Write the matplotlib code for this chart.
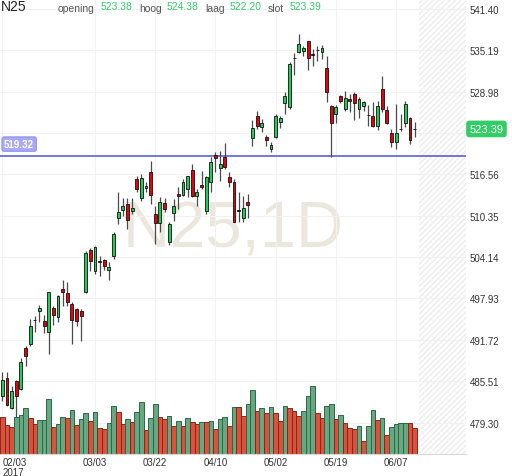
import matplotlib.pyplot as plt
import numpy as np

plt.rcParams['font.family'] = ['Liberation Sans', 'DejaVu Sans']

# daily candles, 03 Feb 2017 .. 13 Jun 2017
opens = [483.34, 485.99, 481.44, 485.59, 484.34, 490.45, 491.10, 494.63, 496.10, 494.60,
         492.94, 496.46, 495.11, 499.36, 498.76, 497.10, 496.35, 496.10, 498.91, 505.18,
         502.10, 503.61, 503.71, 502.21, 504.27, 509.97, 511.26, 512.12, 511.11, 515.87,
         512.98, 514.48, 516.88, 510.62, 509.27, 512.27, 506.37, 510.72, 513.62, 513.47,
         514.37, 517.27, 513.28, 514.97, 511.11, 515.38, 519.48, 517.48, 519.13, 516.13,
         515.38, 511.14, 509.97, 512.49, 521.98, 525.29, 523.64, 522.22, 520.38, 522.13,
         524.39, 527.28, 526.64, 534.00, 534.99, 535.09, 536.55, 534.54, 535.24, 534.90,
         532.49, 526.79, 525.63, 528.29, 526.38, 527.88, 528.64, 526.38, 526.79, 525.48,
         525.38, 523.79, 529.39, 526.28, 522.78, 521.38, 523.38, 524.28, 525.03, 523.38]
highs = [486.94, 486.94, 484.84, 485.74, 488.95, 490.80, 494.85, 495.35, 496.95, 495.50,
         498.95, 496.85, 498.46, 500.71, 500.36, 497.36, 496.46, 496.35, 505.06, 505.44,
         505.86, 504.36, 503.86, 503.37, 507.87, 513.88, 512.98, 512.98, 512.98, 516.37,
         516.62, 515.38, 518.62, 511.86, 513.13, 512.98, 509.37, 512.87, 514.63, 515.87,
         516.37, 518.13, 514.37, 517.12, 516.37, 519.18, 519.93, 520.08, 521.28, 516.88,
         515.87, 513.88, 513.37, 513.62, 524.78, 526.13, 524.88, 522.48, 521.38, 525.63,
         525.29, 528.89, 533.40, 534.79, 537.64, 535.89, 536.64, 535.39, 535.89, 535.99,
         534.39, 526.98, 526.98, 528.49, 529.13, 528.64, 528.98, 528.14, 527.63, 526.98,
         527.39, 527.63, 531.38, 526.79, 523.38, 527.13, 525.63, 527.63, 525.23, 524.38]
lows = [482.58, 481.79, 481.34, 480.14, 484.19, 487.84, 490.84, 492.85, 494.45, 492.70,
        489.60, 493.95, 494.36, 496.76, 496.76, 491.10, 493.85, 491.59, 498.76, 502.06,
        501.61, 501.35, 502.21, 500.75, 503.86, 509.12, 510.36, 508.37, 510.62, 513.88,
        512.61, 513.88, 512.12, 506.11, 507.87, 510.87, 505.96, 509.61, 511.37, 513.37,
        513.13, 513.13, 511.86, 514.37, 510.62, 513.88, 516.88, 515.62, 517.37, 514.63,
        509.37, 509.37, 509.37, 509.97, 520.78, 523.38, 522.89, 520.78, 519.88, 521.98,
        523.49, 525.63, 526.38, 531.49, 534.79, 534.30, 532.28, 532.88, 533.64, 533.89,
        527.39, 519.13, 524.28, 527.28, 526.13, 525.89, 524.78, 524.99, 526.13, 523.88,
        523.64, 523.28, 525.89, 524.13, 520.63, 520.38, 523.08, 523.68, 521.13, 522.20]
closes = [485.74, 481.89, 484.09, 483.34, 488.35, 489.37, 493.85, 494.63, 496.46, 493.76,
          498.86, 495.45, 498.35, 498.86, 497.45, 494.75, 494.60, 495.26, 504.76, 503.56,
          505.62, 503.37, 502.76, 502.70, 507.62, 510.96, 511.77, 509.76, 511.47, 514.37,
          515.98, 514.87, 513.47, 509.27, 512.37, 511.37, 509.12, 511.86, 513.37, 515.47,
          516.28, 513.28, 513.88, 514.63, 516.13, 518.47, 519.10, 518.13, 517.63, 515.47,
          509.46, 511.14, 511.47, 511.97, 523.49, 523.88, 524.24, 521.73, 520.98, 525.29,
          524.99, 528.29, 533.14, 534.00, 536.14, 535.50, 534.00, 534.54, 535.24, 535.54,
          528.89, 524.28, 526.64, 527.63, 527.99, 527.63, 527.28, 527.88, 527.48, 525.48,
          523.79, 526.88, 526.38, 524.24, 521.38, 522.78, 523.38, 527.06, 521.73, 523.39]
volumes = [37.3, 29.0, 27.3, 36.7, 39.0, 45.7, 35.7, 30.0, 34.0, 34.0,
           54.7, 27.3, 30.0, 37.3, 35.7, 44.0, 29.0, 34.7, 40.7, 33.3,
           42.3, 26.3, 25.0, 31.3, 48.3, 41.7, 30.0, 34.7, 32.3, 42.3,
           51.7, 24.0, 35.7, 50.0, 36.7, 35.0, 38.3, 28.3, 33.3, 28.3,
           35.7, 31.7, 30.0, 32.3, 32.3, 33.3, 24.7, 34.7, 37.3, 28.0,
           47.3, 46.7, 38.0, 50.0, 64.0, 43.0, 45.7, 40.7, 47.3, 40.7,
           33.0, 48.3, 45.7, 43.0, 38.0, 43.0, 58.0, 68.3, 40.7, 36.3,
           48.3, 49.7, 34.7, 39.0, 31.3, 25.7, 24.7, 28.0, 13.0, 28.0,
           44.0, 34.0, 35.7, 19.0, 27.3, 29.7, 30.7, 31.3, 30.7, 26.3]
vol_up = [0, 0, 0, 1, 1, 1, 0, 0, 1, 1,
          1, 0, 1, 1, 0, 1, 0, 1, 1, 0,
          1, 0, 0, 1, 1, 0, 0, 1, 0, 1,
          1, 0, 1, 1, 0, 0, 1, 0, 1, 0,
          1, 0, 0, 1, 0, 1, 0, 1, 1, 0,
          1, 0, 0, 1, 1, 0, 1, 0, 1, 0,
          0, 1, 0, 0, 0, 1, 1, 1, 0, 0,
          1, 1, 0, 1, 0, 0, 0, 1, 0, 1,
          1, 0, 1, 0, 1, 1, 1, 1, 0, 0]

tick_idx = [0, 20, 33, 46, 59, 72, 85]
tick_labels = ['02/03\n2017', '03/03', '03/22', '04/10', '05/02', '05/19', '06/07']
price_ticks = [479.30, 485.51, 491.72, 497.93, 504.14, 510.35, 516.56, 522.77, 528.98, 535.19, 541.40]
level = 519.32
symbol = 'N25'
interval = '1D'
hdr_labels = ['opening', 'hoog', 'laag', 'slot']

W, H = 512, 477
fig = plt.figure(figsize=(W / 100, H / 100), dpi=100)
ax = fig.add_axes([0, 22 / H, 466 / W, 455 / H])

x = np.arange(len(closes))
o = np.array(opens)
c = np.array(closes)

# volume bars live in the bottom of the price panel (axes-fraction heights)
vol_frac = np.array(volumes) / (max(volumes) * 6.66)
vcol = ['#67a883' if u else '#d9523d' for u in vol_up]
vedge = ['#2c6844' if u else '#8a2616' for u in vol_up]
ax.bar(x, vol_frac, width=1.0, bottom=0, color=vcol, edgecolor=vedge, linewidth=0.7,
       transform=ax.get_xaxis_transform(), zorder=1.8)

# candles
body_col = np.where(c > o, '#22cc55', np.where(c < o, '#e8000b', '#111111'))
body_h = np.where(c == o, 0.05, c - o)
ax.vlines(x, lows, highs, color='#4a4a4a', linewidth=0.9, zorder=3)
ax.bar(x, body_h, bottom=o, width=0.62, color=body_col, edgecolor='#111111',
       linewidth=0.6, zorder=4)

ax.axhline(level, color='#6b6bd6', linewidth=1.3, zorder=2)
ax.axvspan(len(closes), 100.1, facecolor='none', edgecolor='#ececec',
           hatch='//////', linewidth=0, zorder=1)

ax.text(0.5, 0.455, f'{symbol},{interval}', transform=ax.transAxes, ha='center',
        va='baseline', fontsize=47, color='#ebe7dc', zorder=0.5)

ax.set_xlim(-0.52, 100.1)
ax.set_ylim(474.58, 542.90)
ax.yaxis.tick_right()
# the 522.77 label sits under the last-price tag
ax.set_yticks(price_ticks, ['' if v == 522.77 else f'{v:.2f}' for v in price_ticks])
ax.set_xticks(tick_idx, tick_labels)
ax.tick_params(axis='y', length=0, pad=2.5, labelsize=7, labelcolor='#333333')
ax.tick_params(axis='x', length=0, pad=2.5, labelsize=7, labelcolor='#333333')
ax.get_xticklabels()[0].set_ha('left')
ax.get_xticklabels()[0].set_linespacing(0.95)
ax.grid(True, color='#f1f1f1', linewidth=0.8)
for s in ['top', 'left', 'right']:
    ax.spines[s].set_visible(False)
ax.spines['bottom'].set_color('#d8d8d8')
ax.spines['bottom'].set_linewidth(0.8)

# last price and level tags
ax.annotate(f'{closes[-1]:.2f}', xy=(1, closes[-1]), xycoords=ax.get_yaxis_transform(),
            xytext=(2.5, 0), textcoords='offset points', ha='left', va='center',
            color='white', fontsize=8,
            bbox=dict(boxstyle='round,pad=0.3', fc='#33cc66', ec='none'),
            annotation_clip=False, zorder=10)
ax.annotate(f'{level:.2f}', xy=(0, level), xycoords=ax.get_yaxis_transform(),
            xytext=(3.0, 8.6), textcoords='offset points', ha='left', va='center',
            color='white', fontsize=7, fontweight='bold',
            bbox=dict(boxstyle='round,pad=0.22', fc='#a9a9f5', ec='#9a9af0'),
            zorder=10)

# header
yh = 1 - 7 / H
fig.text(1 / W, yh, symbol, fontsize=10, color='#222222', va='center', ha='left')
hdr_vals = [opens[-1], highs[-1], lows[-1], closes[-1]]
lab_x = [58, 139, 205, 268]
val_x = [101, 167, 230, 290]
for lab, val, lx, vx in zip(hdr_labels, hdr_vals, lab_x, val_x):
    fig.text(lx / W, yh - 0.004, lab, fontsize=7.5, color='#555555', va='center', ha='left')
    fig.text(vx / W, yh, f'{val:.2f}', fontsize=7.5, color='#33cc66', va='center', ha='left')

fig.savefig('out.png', dpi=100, facecolor='white')
